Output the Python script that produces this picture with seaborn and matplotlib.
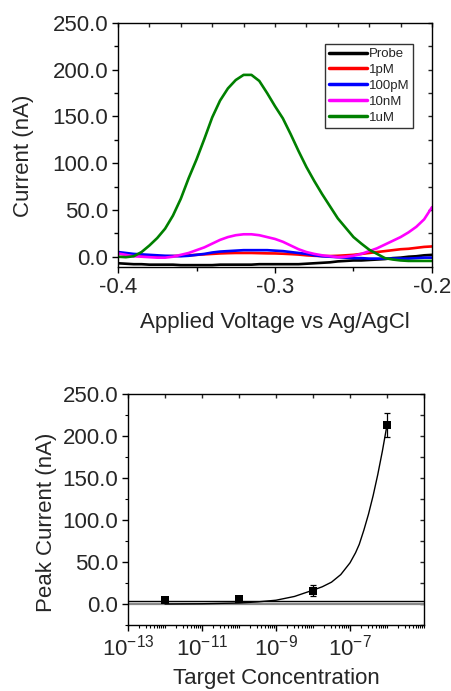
import numpy as np
import pandas as pd
import matplotlib
matplotlib.use("Agg")
import matplotlib.pyplot as plt
import seaborn as sns
from matplotlib.ticker import MultipleLocator, FormatStrFormatter, LogLocator, NullFormatter

# ---------------- data: top panel (SWV curves) ----------------
voltage = [-0.400, -0.395, -0.390, -0.385, -0.380, -0.375, -0.370, -0.365, -0.360, -0.355,
           -0.350, -0.345, -0.340, -0.335, -0.330, -0.325, -0.320, -0.315, -0.310, -0.305,
           -0.300, -0.295, -0.290, -0.285, -0.280, -0.275, -0.270, -0.265, -0.260, -0.255,
           -0.250, -0.245, -0.240, -0.235, -0.230, -0.225, -0.220, -0.215, -0.210, -0.205, -0.200]
probe = [-7, -7.5, -8, -8, -8.5, -8.5, -8.5, -8.5, -9, -9,
         -9, -9, -9, -8.5, -8.5, -8.5, -8.5, -8.5, -8, -8,
         -8, -8, -8, -8, -7.5, -7, -6.5, -6, -5, -4.5,
         -4, -4, -3.5, -3, -2.5, -1.5, -1, 0, 0.5, 1.5, 2]
c_1pM = [3.5, 2.5, 1.5, 1, 0.7, 0.5, 0.5, 0.7, 1, 1.5,
         2, 2.5, 3, 3.5, 3.8, 4, 4, 4, 3.8, 3.6,
         3.5, 3.2, 2.8, 2.3, 1.5, 1, 0.7, 0.7, 1, 1.5,
         2, 3, 4, 5, 6, 7, 8, 8.5, 9.5, 10.5, 11]
c_100pM = [5, 4, 3, 2.5, 2, 1.5, 1, 0.8, 0.5, 1,
           2, 3, 4.5, 5.5, 6, 6.5, 7, 7, 7, 7,
           6.5, 6, 5, 4, 3, 1.5, 0.5, 0, -0.5, -1,
           -1.5, -1.5, -2, -2, -2, -2, -2, -2, -1.5, -1, -1]
c_10nM = [3.5, 2, 0.5, 0, -0.5, -1, -1, 0, 2, 4,
          7, 10, 14, 18, 21, 23, 24, 24, 23, 21,
          19, 16, 12, 8, 5, 3, 1.5, 0.5, -0.5, 0,
          1, 3, 6, 9, 13, 17, 21, 26, 32, 40, 53]
c_1uM = [0, -0.5, 0.5, 5, 12, 20, 30, 44, 62, 84,
         104, 126, 149, 167, 180, 189, 194.5, 194.5, 188, 175,
         161, 148, 131, 113, 96, 81, 67, 54, 41, 31,
         21, 14, 7.5, 3, -1.5, -3, -4, -4.5, -4.5, -4.5, -4.5]
series_names = ["Probe", "1pM", "100pM", "10nM", "1uM"]
series_colors = ["#000000", "#ff0000", "#0000ff", "#ff00ff", "#008000"]

# ---------------- data: bottom panel (calibration) ----------------
conc = [1e-12, 1e-10, 1e-8, 1e-6]
peak = [5, 6, 16, 213]
peak_err = [1, 1, 7, 14]
fit_logx = [-12, -11, -10, -9.5, -9, -8.5, -8, -7.75, -7.5, -7.25, -7, -6.85, -6.75,
            -6.625, -6.5, -6.375, -6.25, -6.125, -6]
fit_y = [0, 0.3, 1.2, 2.5, 4.5, 9, 16.5, 20.5, 26, 35, 49, 61, 71,
         88, 107, 129, 154, 182, 213]
lod_level = 3.3
zero_level = 0.0
xtick_exps = [-13, -11, -9, -7]

# ---------------- style ----------------
sns.set_style("ticks")
plt.rcParams["font.family"] = ["Liberation Sans", "DejaVu Sans"]
plt.rcParams["mathtext.fontset"] = "custom"
plt.rcParams["mathtext.rm"] = "Liberation Sans"
plt.rcParams["mathtext.it"] = "Liberation Sans"
plt.rcParams["axes.unicode_minus"] = False

FS = 16
fig = plt.figure(figsize=(4.52, 6.91), dpi=100)
W, H = 452, 691

def add_ax(l, r, t, b):
    return fig.add_axes([l / W, 1 - b / H, (r - l) / W, (b - t) / H])

ax1 = add_ax(118, 432, 23, 267)
ax2 = add_ax(128, 424, 394, 625)

# ---------------- top panel ----------------
rows = []
for name, vals in zip(series_names, [probe, c_1pM, c_100pM, c_10nM, c_1uM]):
    for v, c in zip(voltage, vals):
        rows.append({"V": v, "I": c, "Sample": name})
df = pd.DataFrame(rows)
sns.lineplot(data=df, x="V", y="I", hue="Sample", hue_order=series_names,
             palette=series_colors, sort=False, estimator=None, linewidth=1.9, ax=ax1)

ax1.set_xlim(-0.4, -0.2)
ax1.set_ylim(-11, 250)
ax1.xaxis.set_major_locator(MultipleLocator(0.1))
ax1.xaxis.set_minor_locator(MultipleLocator(0.05))
ax1.xaxis.set_major_formatter(FormatStrFormatter("%.1f"))
ax1.yaxis.set_major_locator(MultipleLocator(50))
ax1.yaxis.set_minor_locator(MultipleLocator(25))
ax1.yaxis.set_major_formatter(FormatStrFormatter("%.1f"))
ax1.tick_params(axis="both", which="major", labelsize=FS, length=4, width=1, direction="out", pad=3, color="black")
ax1.tick_params(axis="both", which="minor", length=3, width=1, direction="out", color="black")
for sp in ax1.spines.values():
    sp.set_color("black")
    sp.set_linewidth(1)

ax1.set_xlabel("Applied Voltage vs Ag/AgCl", fontsize=FS, va="baseline")
ax1.xaxis.set_label_coords(0.5, -0.25)
ax1.set_ylabel("Current (nA)", fontsize=FS, va="center")
ax1.yaxis.set_label_coords(-0.300, 0.455)

# mirror ticks on top/right (inward)
sec1x = ax1.secondary_xaxis("top")
sec1x.xaxis.set_major_locator(MultipleLocator(0.02))
sec1x.tick_params(direction="in", length=3, width=1, labeltop=False)
sec1x.spines["top"].set_visible(False)
sec1y = ax1.secondary_yaxis("right")
sec1y.yaxis.set_major_locator(MultipleLocator(25))
sec1y.tick_params(direction="in", length=3, width=1, labelright=False)
sec1y.spines["right"].set_visible(False)

leg = ax1.legend(loc="upper left", bbox_to_anchor=(0.659, 0.914), fontsize=9.5,
                 frameon=True, fancybox=False, handlelength=2.9, handletextpad=0.1,
                 labelspacing=0.28, borderpad=0.3, borderaxespad=0)
leg.get_frame().set_edgecolor("black")
leg.get_frame().set_linewidth(1)
for line in leg.get_lines():
    line.set_linewidth(2.5)

# ---------------- bottom panel ----------------
ax2.set_xscale("log")
ax2.axhline(zero_level, color="#888888", linewidth=1.6, zorder=1)
ax2.axhline(lod_level, color="black", linewidth=1.0, zorder=2)
fit_df = pd.DataFrame({"x": [10.0 ** e for e in fit_logx], "y": fit_y})
sns.lineplot(data=fit_df, x="x", y="y", color="black", linewidth=1.0, sort=False,
             estimator=None, ax=ax2, zorder=3)
ax2.errorbar(conc, peak, yerr=peak_err, fmt="none", ecolor="black", elinewidth=0.9,
             capsize=2.5, capthick=0.9, zorder=4)
pts = pd.DataFrame({"c": conc, "p": peak})
sns.scatterplot(data=pts, x="c", y="p", marker="s", s=30, color="black",
                edgecolor="black", linewidth=0, ax=ax2, zorder=5)

ax2.set_xlim(1e-13, 1e-5)
ax2.set_ylim(-25, 250)
ax2.set_xticks([10.0 ** e for e in xtick_exps])
ax2.set_xticklabels([r"$\mathregular{10^{%d}}$" % e for e in xtick_exps])
ax2.xaxis.set_minor_locator(LogLocator(base=10, subs=np.arange(1, 10), numticks=30))
ax2.xaxis.set_minor_formatter(NullFormatter())
ax2.yaxis.set_major_locator(MultipleLocator(50))
ax2.yaxis.set_minor_locator(MultipleLocator(25))
ax2.yaxis.set_major_formatter(FormatStrFormatter("%.1f"))
ax2.tick_params(axis="both", which="major", labelsize=FS, length=4, width=1, direction="out", pad=3, color="black")
ax2.tick_params(axis="both", which="minor", length=2.5, width=0.8, direction="out", color="black")
for sp in ax2.spines.values():
    sp.set_color("black")
    sp.set_linewidth(1)

ax2.set_xlabel("Target Concentration", fontsize=FS, va="baseline")
ax2.xaxis.set_label_coords(0.5, -0.255)
ax2.set_ylabel("Peak Current (nA)", fontsize=FS, va="center")
ax2.yaxis.set_label_coords(-0.275, 0.446)

sec2x = ax2.secondary_xaxis("top")
sec2x.set_xscale("log")
sec2x.xaxis.set_major_locator(LogLocator(base=10, numticks=20))
sec2x.xaxis.set_minor_locator(LogLocator(base=10, subs=[], numticks=20))
sec2x.tick_params(which="both", direction="in", length=3, width=1, labeltop=False)
sec2x.spines["top"].set_visible(False)
sec2y = ax2.secondary_yaxis("right")
sec2y.yaxis.set_major_locator(MultipleLocator(25))
sec2y.tick_params(direction="in", length=3, width=1, labelright=False)
sec2y.spines["right"].set_visible(False)

fig.savefig("out.png", dpi=100)
